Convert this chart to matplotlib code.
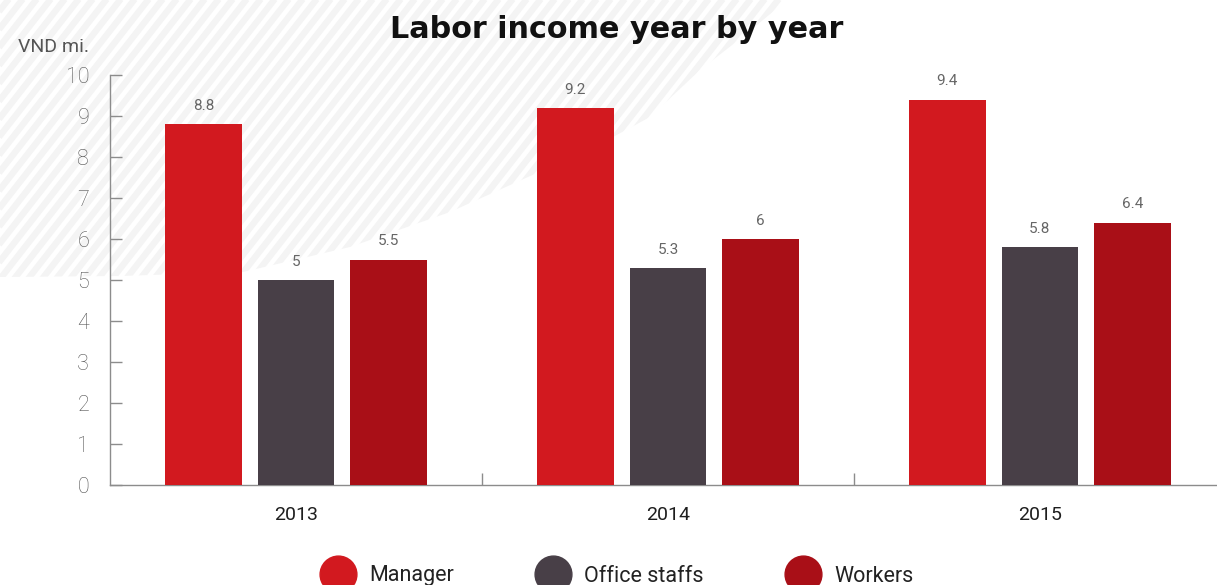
import matplotlib
matplotlib.use("Agg")
import matplotlib.pyplot as plt
import numpy as np
from matplotlib.collections import LineCollection
from matplotlib.patches import Polygon
from matplotlib.lines import Line2D

plt.rcParams['font.family'] = ['Roboto', 'DejaVu Sans']

# ---- data -------------------------------------------------------------
years = ["2013", "2014", "2015"]
series_names = ["Manager", "Office staffs", "Workers"]
manager = [8.8, 9.2, 9.4]
office_staffs = [5.0, 5.3, 5.8]
workers = [5.5, 6.0, 6.4]
y_ticks = [0, 1, 2, 3, 4, 5, 6, 7, 8, 9, 10]

colors = ["#D2191F", "#483F47", "#A90F17"]

W, H = 1217, 585
fig = plt.figure(figsize=(W / 100, H / 100), dpi=100)
fig.patch.set_facecolor("white")


def px(x, y):
    """pixel position (origin top-left) -> figure fraction"""
    return x / W, 1 - y / H


# ---- striped decorative backdrop in the upper-left corner -------------
edge = [(0, 0), (787, 0), (745, 35), (700, 70), (650, 117), (613, 137),
        (537, 173), (450, 212), (350, 247), (243, 272), (120, 276), (0, 277)]
region = Polygon([px(x, y) for x, y in edge], closed=True,
                 transform=fig.transFigure, facecolor="none",
                 edgecolor="none")
fig.add_artist(region)

slope = np.tan(np.radians(52))
segs = []
for c in np.arange(-300, 1400, 14):
    # "/" stripes crossing the top edge at x = c
    y0, y1 = -20, 320
    segs.append([px(c - y0 / slope, y0), px(c - y1 / slope, y1)])
stripes = LineCollection(segs, colors="#f4f4f4", linewidths=4.6,
                         transform=fig.transFigure, zorder=-5)
fig.add_artist(stripes)
stripes.set_clip_path(region)

# ---- axes -------------------------------------------------------------
left, right, top, bottom = 110, 1217, 75, 485
ax = fig.add_axes([left / W, 1 - bottom / H, (right - left) / W,
                   (bottom - top) / H])
ax.set_facecolor("none")

x = np.arange(len(years))
width = 0.205
offset = 0.249
all_series = [manager, office_staffs, workers]
for i, (vals, col) in enumerate(zip(all_series, colors)):
    pos = x + (i - 1) * offset
    ax.bar(pos, vals, width=width, color=col, zorder=3)
    for xp, v in zip(pos, vals):
        ax.annotate(f"{v:g}", (xp, v), xytext=(0, 8),
                    textcoords="offset points", ha="center", va="bottom",
                    fontsize=11, color="#666666", annotation_clip=False)

ax.set_xlim(-0.5, -0.5 + (right - left) / 372)
ax.set_ylim(0, 10)
ax.set_yticks(y_ticks)
ax.set_yticklabels([str(t) for t in y_ticks])

for s in ["top", "right"]:
    ax.spines[s].set_visible(False)
for s in ["left", "bottom"]:
    ax.spines[s].set_color("#8c8c8c")
    ax.spines[s].set_linewidth(1.0)

ax.tick_params(axis="y", direction="in", length=8.6, width=1.0,
               color="#8c8c8c", labelsize=15.5, labelcolor="#555555", pad=15)
ax.set_xticks(x)
ax.set_xticklabels(years)
ax.tick_params(axis="x", which="major", length=0, labelsize=14,
               labelcolor="#1e1e1e", pad=15)
ax.set_xticks([0.5, 1.5], minor=True)
ax.tick_params(axis="x", which="minor", direction="in", length=9,
               width=1.0, color="#8c8c8c")

for lab in ax.get_yticklabels():
    lab.set_fontweight("light")

# ---- titles -----------------------------------------------------------
fig.text(*px(617, 29), "Labor income year by year", ha="center",
         va="center", fontsize=21.8, fontweight="bold", color="#111111",
         family=["DejaVu Sans"])
fig.text(*px(18, 47), "VND mi.", ha="left", va="center", fontsize=14,
         color="#555555")

# ---- legend -----------------------------------------------------------
handles = [Line2D([], [], linestyle="none", marker="o", markersize=26.5,
                  markerfacecolor=c, markeredgecolor=c) for c in colors]
fig.legend(handles, series_names, loc="center", ncol=3,
           bbox_to_anchor=(px(616, 576)), frameon=False, fontsize=15.5,
           handlelength=1.8, handletextpad=0.55, columnspacing=3.7,
           labelcolor="#222222")

fig.savefig("out.png", dpi=100, facecolor="white")
